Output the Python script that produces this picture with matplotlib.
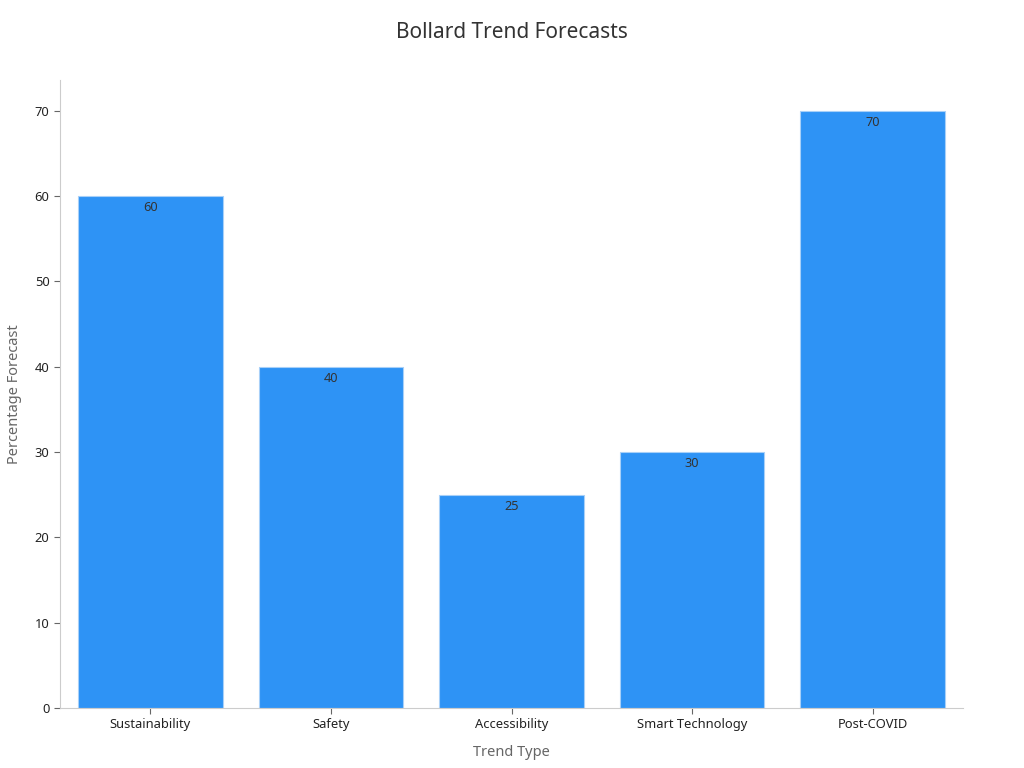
import matplotlib
matplotlib.use("Agg")
import matplotlib.pyplot as plt

categories = ["Sustainability", "Safety", "Accessibility", "Smart Technology", "Post-COVID"]
values = [60, 40, 25, 30, 70]

plt.rcParams['font.family'] = ['Noto Sans', 'DejaVu Sans']

fig = plt.figure(figsize=(10.24, 7.68), dpi=100)
ax = fig.add_axes([60/1024, 1-708/768, (963-60)/1024, (708-80)/768])

bars = ax.bar(range(len(categories)), values, width=0.8, color="#2E93F5",
              edgecolor="#A8D0F8", linewidth=0.8)
for i, v in enumerate(values):
    ax.text(i, v - 0.6, f"{v}", ha="center", va="top", fontsize=9.2, color="#333333")

ax.set_xlim(-0.5, 4.5)
ax.set_ylim(0, 73.6)
ax.set_xticks(range(len(categories)))
ax.set_xticklabels(categories, fontsize=9.3, color="#222222")
ax.set_yticks(range(0, 71, 10))
ax.tick_params(axis="y", labelsize=9.3, colors="#222222", length=4, color="#666666")
ax.tick_params(axis="x", length=4, color="#666666")
for s in ["top", "right"]:
    ax.spines[s].set_visible(False)
for s in ["left", "bottom"]:
    ax.spines[s].set_color("#CCCCCC")

ax.set_xlabel("Trend Type", fontsize=10.5, color="#666666", labelpad=10)
ax.set_ylabel("Percentage Forecast", fontsize=10.5, color="#666666", labelpad=9)
fig.suptitle("Bollard Trend Forecasts", fontsize=15, color="#333333", y=1-33/768, va="center")

fig.savefig("out.png", dpi=100)
